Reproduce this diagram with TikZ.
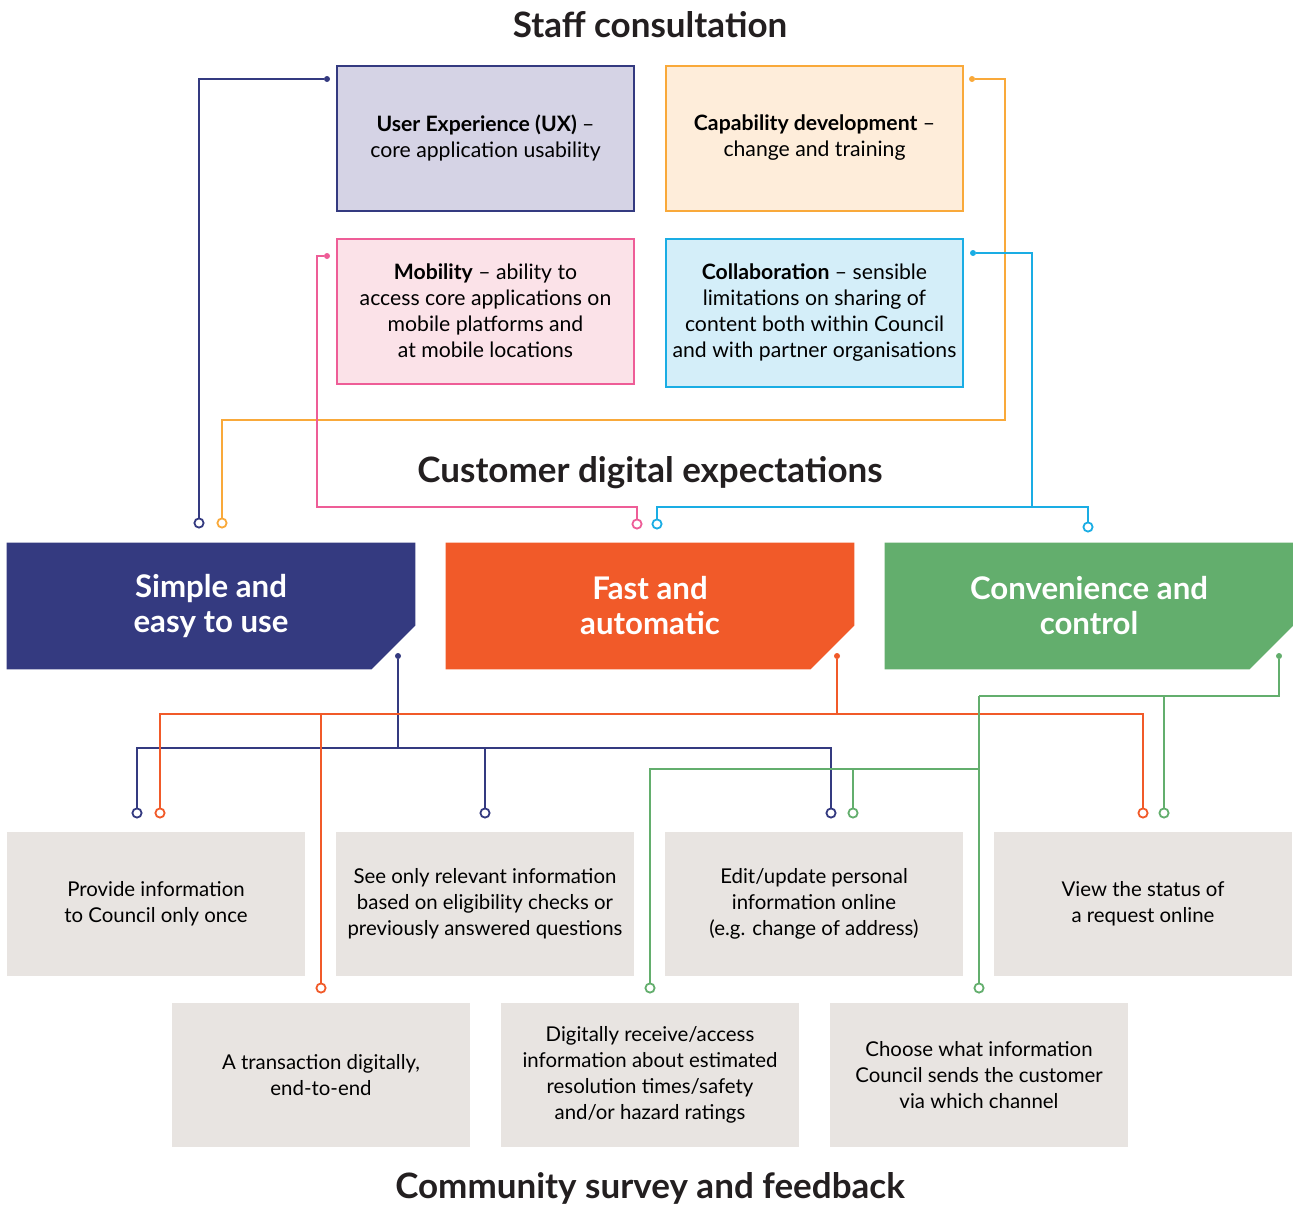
\documentclass[tikz,border=0pt]{standalone}
\usepackage{fontspec}
\setmainfont{Lato}
\usepackage{tikz}
\usetikzlibrary{backgrounds}
\definecolor{navy}{HTML}{343A80}
\definecolor{orangered}{HTML}{F15A29}
\definecolor{leaf}{HTML}{63AE6D}
\definecolor{pinkline}{HTML}{EE5D97}
\definecolor{cyanline}{HTML}{1AADE4}
\definecolor{amber}{HTML}{F9A93A}
\definecolor{uxfill}{HTML}{D5D3E5}
\definecolor{capfill}{HTML}{FEEDDA}
\definecolor{mobfill}{HTML}{FBE2E8}
\definecolor{colfill}{HTML}{D4EEF9}
\definecolor{boxgrey}{HTML}{E8E4E1}
\definecolor{headgrey}{HTML}{231F20}
\tikzstyle{topbox} = [rectangle, minimum width=148.5pt, minimum height=72.5pt, inner sep=1pt, align=center, line width=1pt, font=\fontsize{10.6}{13}\selectfont]
\tikzstyle{bigbox} = [rectangle, minimum width=204pt, minimum height=63pt, inner sep=0pt, text=white, align=center, font=\fontsize{15.6}{17.5}\selectfont\bfseries]
\tikzstyle{greybox} = [rectangle, fill=boxgrey, minimum width=149pt, minimum height=72pt, inner sep=1pt, align=center, font=\fontsize{10.2}{13}\selectfont]
\tikzstyle{heading} = [font=\fontsize{17.5}{20}\selectfont\bfseries, text=headgrey]
\tikzstyle{link} = [line width=1pt]
\tikzstyle{enddot} = [circle, inner sep=0pt, minimum size=3pt]
\tikzstyle{endring} = [circle, fill=white, line width=0.9pt, inner sep=0pt, minimum size=4.6pt]
\begin{document}
\begin{tikzpicture}[x=0.5pt, y=-0.5pt, node distance=164.5pt]
\useasboundingbox (0,0) rectangle (1293,1205);
\node (stafftitle) [heading] at (650,25) {Staff consultation};
\node (custtitle) [heading] at (650,473) {Customer digital expectations};
\node (commtitle) [heading] at (650,1188) {Community survey and feedback};

\node (ux) [topbox, draw=navy, fill=uxfill] at (485.5,138) {\textbf{User Experience (UX)} –\\core application usability};
\node (cap) [topbox, draw=amber, fill=capfill, right of=ux] {\textbf{Capability development} –\\change and training};
\node (mob) [topbox, draw=pinkline, fill=mobfill] at (485.5,311) {\textbf{Mobility} – ability to\\access core applications on\\mobile platforms and\\at mobile locations};
\node (col) [topbox, draw=cyanline, fill=colfill, minimum height=74pt, right of=mob, yshift=-0.75pt] {\textbf{Collaboration} – sensible\\limitations on sharing of\\content both within Council\\and with partner organisations};

\node (simple) [bigbox] at (211,606) {Simple and\\easy to use};
\node (fast) [bigbox, right of=simple, node distance=219.5pt] {Fast and\\automatic};
\node (conv) [bigbox, right of=fast, node distance=219.5pt] {Convenience and\\control};
\begin{scope}[on background layer]
\foreach \name/\col in {simple/navy, fast/orangered, conv/leaf}
  \fill [\col] (\name.north west) -- (\name.north east) -- ([yshift=22pt]\name.south east) -- ([xshift=-22pt]\name.south east) -- (\name.south west) -- cycle;
\end{scope}

\node (provide) [greybox] at (156,904) {Provide information\\to Council only once};
\node (see) [greybox, right of=provide] {See only relevant information\\based on eligibility checks or\\previously answered questions};
\node (edit) [greybox, right of=see] {Edit/update personal\\information online\\(e.g. change of address)};
\node (view) [greybox, right of=edit] {View the status of\\a request online};
\node (trans) [greybox] at (321,1075) {A transaction digitally,\\end-to-end};
\node (digital) [greybox, right of=trans] {Digitally receive/access\\information about estimated\\resolution times/safety\\and/or hazard ratings};
\node (choose) [greybox, right of=digital] {Choose what information\\Council sends the customer\\via which channel};

\node (uxdot) [enddot, fill=navy] at (327,79) {};
\node (capdot) [enddot, fill=amber] at (972,79) {};
\node (mobdot) [enddot, fill=pinkline] at (327,256) {};
\node (coldot) [enddot, fill=cyanline] at (973,253) {};
\node (simpledot) [enddot, fill=navy] at (398,656) {};
\node (fastdot) [enddot, fill=orangered] at (837,656) {};
\node (convdot) [enddot, fill=leaf] at (1279,656) {};

\coordinate (capturn) at (1005,420);
\coordinate (mobturn) at (317,507);
\coordinate (colturn) at (1032,507);
\coordinate (simplejoin) at (398,748);
\coordinate (fastjoin) at (837,714);
\coordinate (convjoin) at (979,696);
\coordinate (convmid) at (979,769);

\node (simpleux) [endring, draw=navy] at (199,523) {};
\node (simplecap) [endring, draw=amber] at (222,523) {};
\node (fastmob) [endring, draw=pinkline] at (637,524) {};
\node (fastcol) [endring, draw=cyanline] at (657,524) {};
\node (convcol) [endring, draw=cyanline] at (1088,527) {};

\node (providesimple) [endring, draw=navy] at (137,813) {};
\node (providefast) [endring, draw=orangered] at (160,813) {};
\node (seesimple) [endring, draw=navy] at (485,813) {};
\node (editsimple) [endring, draw=navy] at (831,813) {};
\node (editconv) [endring, draw=leaf] at (853,813) {};
\node (viewfast) [endring, draw=orangered] at (1143,813) {};
\node (viewconv) [endring, draw=leaf] at (1164,813) {};
\node (transfast) [endring, draw=orangered] at (321,988) {};
\node (digitalconv) [endring, draw=leaf] at (650,988) {};
\node (chooseconv) [endring, draw=leaf] at (979,988) {};

\draw [link, navy] (uxdot) -| (simpleux);
\draw [link, amber] (capdot) -| (capturn) -| (simplecap);
\draw [link, pinkline] (mobdot) -| (mobturn) -| (fastmob);
\draw [link, cyanline] (coldot) -| (colturn) -| (fastcol);
\draw [link, cyanline] (colturn) -| (convcol);

\draw [link, navy] (simpledot) -- (simplejoin);
\draw [link, navy] (simplejoin) -| (providesimple);
\draw [link, navy] (simplejoin) -| (seesimple);
\draw [link, navy] (simplejoin) -| (editsimple);
\draw [link, orangered] (fastdot) -- (fastjoin);
\draw [link, orangered] (fastjoin) -| (providefast);
\draw [link, orangered] (fastjoin) -| (transfast);
\draw [link, orangered] (fastjoin) -| (viewfast);
\draw [link, leaf] (convdot) |- (convjoin);
\draw [link, leaf] (convjoin) -| (viewconv);
\draw [link, leaf] (convjoin) -- (chooseconv);
\draw [link, leaf] (convmid) -| (digitalconv);
\draw [link, leaf] (convmid) -| (editconv);
\end{tikzpicture}
\end{document}
